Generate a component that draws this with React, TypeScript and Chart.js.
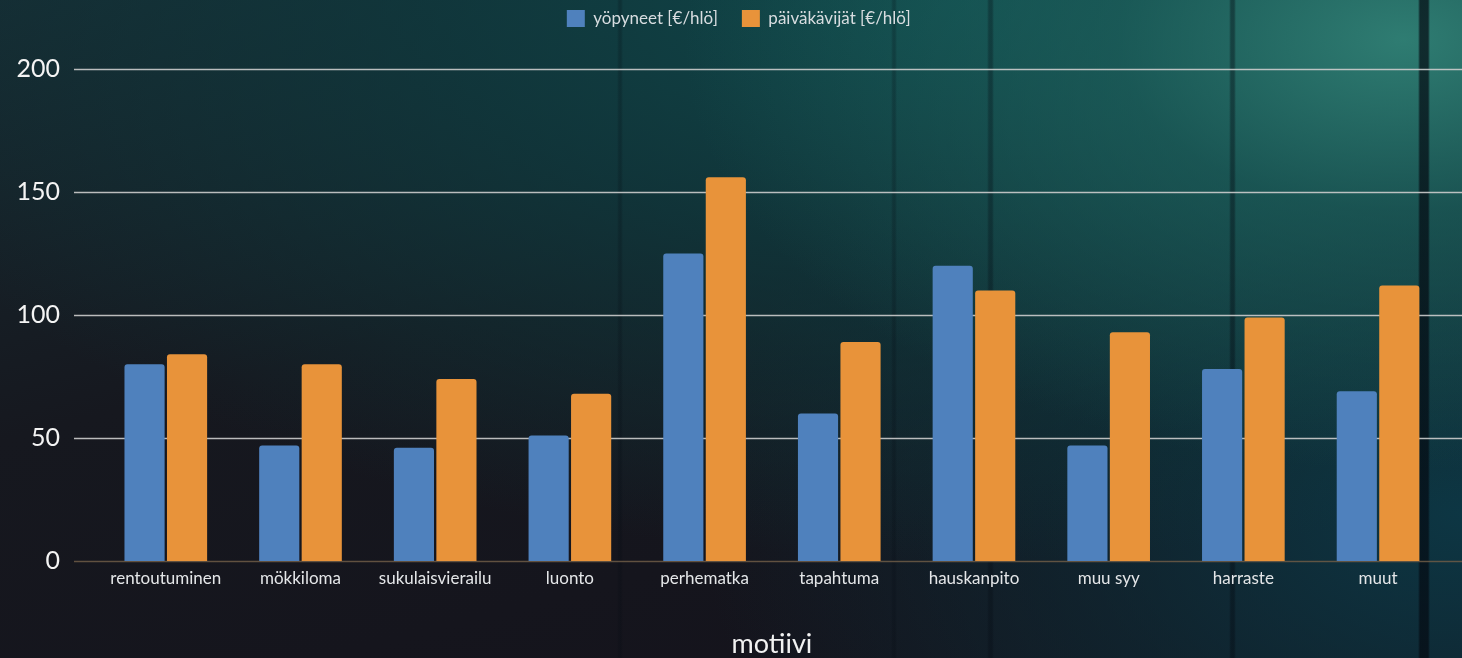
import React, { useEffect, useRef } from "react";
import { Chart, registerables } from "chart.js";

Chart.register(...registerables);

// Motive categories and average spend per person
const categories = [
  "rentoutuminen",
  "mökkiloma",
  "sukulaisvierailu",
  "luonto",
  "perhematka",
  "tapahtuma",
  "hauskanpito",
  "muu syy",
  "harraste",
  "muut",
];
const overnightSpend = [80, 47, 46, 51, 125, 60, 120, 47, 78, 69];
const dayVisitorSpend = [84, 80, 74, 68, 156, 89, 110, 93, 99, 112];
const seriesLabels = ["yöpyneet [€/hlö]", "päiväkävijät [€/hlö]"];
const axisTitle = "motiivi";
const yTicks = [0, 50, 100, 150, 200];

const W = 1462;
const H = 658;
const FONT = "Lato, 'Open Sans', sans-serif";

// Horizontal grid lines running past the plot area on both sides
const gridLines = {
  id: "gridLines",
  beforeDatasetsDraw(chart: any) {
    const { ctx, scales } = chart;
    const y = scales.y;
    ctx.save();
    for (const v of yTicks) {
      const py = Math.round(y.getPixelForValue(v)) + 0.5;
      ctx.beginPath();
      ctx.moveTo(74, py);
      ctx.lineTo(chart.width, py);
      ctx.lineWidth = 1.6;
      ctx.strokeStyle = v === 0 ? "rgba(110,92,70,0.85)" : "rgba(205,205,205,0.9)";
      ctx.stroke();
    }
    ctx.restore();
  },
};

// Extra room between the legend and the plot area
const legendSpacer = {
  id: "legendSpacer",
  beforeInit(chart: any) {
    const legend = chart.legend;
    if (!legend) return;
    const fit = legend.fit;
    legend.fit = function () {
      fit.call(this);
      this.height += 32;
    };
  },
};

// Nudge the legend row so it sits a little right of the canvas centre
const legendShift = {
  id: "legendShift",
  afterLayout(chart: any) {
    if (chart.legend) chart.legend.left += 32;
  },
};

const background = [
  "linear-gradient(90deg, transparent 1418px, rgba(4,10,18,0.7) 1420px, rgba(4,10,18,0.7) 1428px, transparent 1430px)",
  "linear-gradient(90deg, transparent 1229px, rgba(4,10,18,0.4) 1231px, rgba(4,10,18,0.4) 1234px, transparent 1236px)",
  "linear-gradient(90deg, transparent 987px, rgba(4,10,18,0.3) 989px, rgba(4,10,18,0.3) 992px, transparent 994px)",
  "linear-gradient(90deg, transparent 891px, rgba(4,10,18,0.22) 893px, rgba(4,10,18,0.22) 895px, transparent 897px)",
  "linear-gradient(90deg, transparent 617px, rgba(4,10,18,0.22) 619px, rgba(4,10,18,0.22) 621px, transparent 623px)",
  "radial-gradient(ellipse 720px 430px at 96% 6%, rgba(50,132,120,0.9) 0%, rgba(32,104,98,0.6) 40%, rgba(20,70,72,0) 100%)",
  "radial-gradient(ellipse 1150px 560px at 66% 0%, rgba(15,74,76,0.95) 0%, rgba(14,62,66,0.7) 45%, rgba(14,40,50,0) 100%)",
  "radial-gradient(ellipse 760px 520px at 100% 78%, rgba(12,58,72,0.9) 0%, rgba(12,50,62,0.5) 50%, rgba(12,40,52,0) 100%)",
  "linear-gradient(165deg, #162a31 0%, #16181f 42%, #14121b 100%)",
].join(", ");

export default function App() {
  const canvasRef = useRef<HTMLCanvasElement | null>(null);

  useEffect(() => {
    document.body.style.margin = "0";
    const canvas = canvasRef.current;
    if (!canvas) return;
    const chart = new Chart(canvas, {
      type: "bar",
      data: {
        labels: categories,
        datasets: [
          {
            label: seriesLabels[0],
            data: overnightSpend,
            backgroundColor: "#4f81bd",
            borderRadius: 3,
            categoryPercentage: 0.631,
            barPercentage: 0.945,
          },
          {
            label: seriesLabels[1],
            data: dayVisitorSpend,
            backgroundColor: "#e8933a",
            borderRadius: 3,
            categoryPercentage: 0.631,
            barPercentage: 0.945,
          },
        ],
      },
      options: {
        responsive: false,
        animation: false,
        devicePixelRatio: 1,
        layout: { padding: { top: -14, left: 0, right: 16.6, bottom: 0 } },
        plugins: {
          legend: {
            position: "top",
            labels: {
              boxWidth: 18,
              boxHeight: 17,
              padding: 24,
              color: "#d8dde0",
              font: { family: FONT, size: 17 },
            },
          },
          tooltip: { enabled: false },
        },
        scales: {
          x: {
            grid: { display: false, drawTicks: false },
            border: { display: false },
            ticks: {
              color: "#e4e6e8",
              padding: 7,
              font: { family: FONT, size: 17 },
            },
            title: {
              display: true,
              text: axisTitle,
              color: "#f2f2f2",
              font: { family: FONT, size: 27, lineHeight: 1 },
              padding: { top: 0, bottom: 0 },
            },
            afterFit(scale: any) {
              scale.height = 97;
            },
          },
          y: {
            min: 0,
            max: 200,
            grid: { display: false, drawTicks: false },
            border: { display: false },
            ticks: {
              stepSize: 50,
              color: "#f4f4f4",
              padding: 38.45,
              font: { family: FONT, size: 25 },
            },
            afterFit(scale: any) {
              scale.width = 98.45;
            },
          },
        },
      },
      plugins: [gridLines, legendSpacer, legendShift],
    });
    return () => chart.destroy();
  }, []);

  return (
    <div
      style={{
        position: "absolute",
        left: 0,
        top: 0,
        width: W,
        height: H,
        overflow: "hidden",
        background,
      }}
    >
      <canvas ref={canvasRef} width={W} height={H} style={{ display: "block", width: W, height: H }} />
    </div>
  );
}
